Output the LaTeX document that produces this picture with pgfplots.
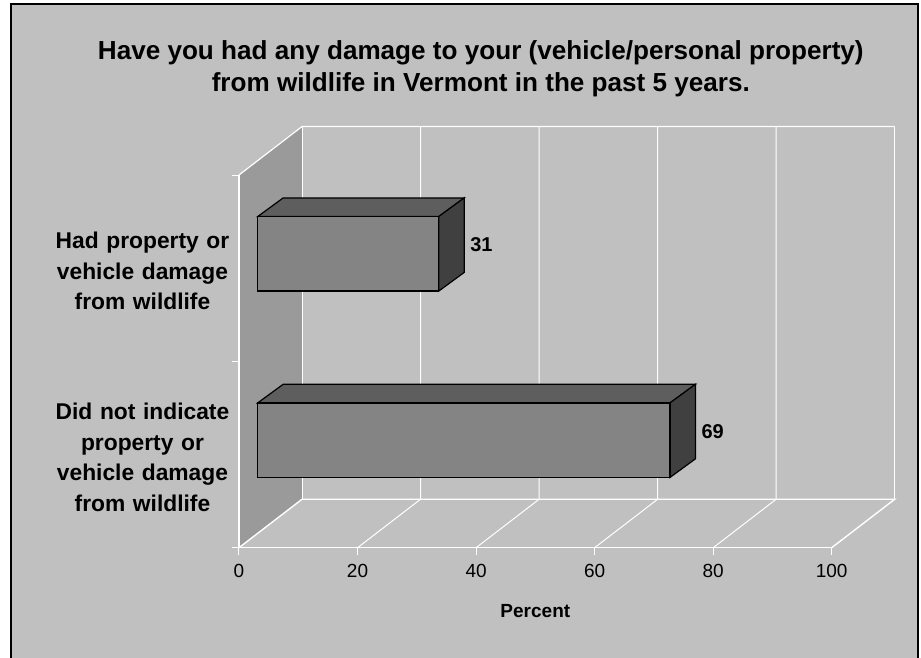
\documentclass[border=0pt]{standalone}
\usepackage{pgfplots}
\pgfplotsset{compat=1.18}
\usepackage{fontspec}
\setmainfont{Liberation Sans}
\definecolor{panel}{HTML}{C0C0C0}
\definecolor{wall}{HTML}{9A9A9A}
\definecolor{bartop}{HTML}{5E5E5E}
\definecolor{barside}{HTML}{404040}
\definecolor{barfront}{HTML}{7A7A7A}
\definecolor{baredge}{HTML}{848484}

\begin{document}
\begin{tikzpicture}[x=1pt,y=1pt]
% page = 921 x 657, axis origin sits at pixel (239,547.7)
\useasboundingbox (-239,-109.3) rectangle (682,547.7);
\fill[white] (-239,-109.3) rectangle (682,547.7);
\fill[panel] (-228,-110) rectangle (679,544);
\draw[black,line width=1.8pt] (-228,-112) -- (-228,544) -- (679,544) -- (679,-112);

% walls, floor and grid, front plane 0..100 x 0..2
\begin{axis}[
	at={(0,0)}, anchor=south west,
	scale only axis,
	width=592.7pt, height=372.7pt,
	xmin=0, xmax=100, ymin=0, ymax=2,
	clip=false,
	axis on top,
	axis lines*=left,
	axis line style={white,line width=1.2pt},
	xtick={0,20,40,60,80,100},
	ytick={0.5,1.5},
	yticklabels={{Did not indicate\\property or\\vehicle damage\\from wildlife},{Had property or\\vehicle damage\\from wildlife}},
	minor ytick={0,1,2},
	tick align=outside,
	major tick length=7pt,
	minor tick length=7pt,
	x tick style={white,line width=1pt},
	major y tick style={draw=none},
	minor y tick style={white,line width=1pt},
	/pgf/number format/assume math mode=true,
	x tick label style={font=\fontsize{19}{22}\selectfont,yshift=-6pt},
	y tick label style={font=\fontsize{22.8}{30.5}\selectfont\bfseries,align=center,text width=180pt,anchor=east,xshift=4pt,yshift=-3pt},
	xlabel={Percent},
	xlabel style={font=\fontsize{19}{22}\selectfont\bfseries,yshift=-20pt},
	title={Have you had any damage to your (vehicle/personal property)\\from wildlife in Vermont in the past 5 years.},
	title style={font=\fontsize{26.1}{32}\selectfont\bfseries,align=center,at={(0.408,1.0)},anchor=south,yshift=69pt},
]
\addplot[fill=wall,draw=none] coordinates {(0,0) (0,2) (10.63,2.26) (10.63,0.26)} --cycle;
\addplot[white,line width=1.2pt] coordinates {(0,2) (10.63,2.26) (100+10.63,2.26)};
\addplot[white,line width=1.4pt] coordinates {(0,0) (10.63,0.26) (110.63,0.26) (100,0)};
\addplot[white,line width=1pt] coordinates {(10.63,0.26) (10.63,2.26)};
\addplot[white,line width=1pt] coordinates {(20,0) (30.63,0.26) (30.63,2.26)};
\addplot[white,line width=1pt] coordinates {(40,0) (50.63,0.26) (50.63,2.26)};
\addplot[white,line width=1pt] coordinates {(60,0) (70.63,0.26) (70.63,2.26)};
\addplot[white,line width=1pt] coordinates {(80,0) (90.63,0.26) (90.63,2.26)};
\addplot[white,line width=1pt] coordinates {(110.63,0.26) (110.63,2.26)};
\end{axis}

% bars, set back from the front plane by a shifted second axis
\begin{axis}[
	at={(0,0)}, anchor=south west,
	scale only axis,
	width=592.7pt, height=372.7pt,
	xmin=-3.155, xmax=96.845, ymin=-0.077, ymax=1.923,
	clip=false,
	hide axis,
]
% top and side faces
\addplot[fill=bartop,draw=black,line width=1.2pt] coordinates {(0,0.7) (69.56,0.7) (73.86,0.8) (4.3,0.8)} --cycle;
\addplot[fill=barside,draw=black,line width=1.2pt] coordinates {(69.56,0.3) (73.86,0.4) (73.86,0.8) (69.56,0.7)} --cycle;
\addplot[fill=bartop,draw=black,line width=1.2pt] coordinates {(0,1.7) (30.54,1.7) (34.84,1.8) (4.3,1.8)} --cycle;
\addplot[fill=barside,draw=black,line width=1.2pt] coordinates {(30.54,1.3) (34.84,1.4) (34.84,1.8) (30.54,1.7)} --cycle;
% front faces
\addplot[xbar,bar width=0.4,draw=black,line width=1.2pt,
	left color=baredge,middle color=barfront,right color=baredge,
	point meta=explicit symbolic,
	nodes near coords,
	every node near coord/.append style={font=\fontsize{20}{24}\selectfont\bfseries,text=black,anchor=west,inner sep=0pt,xshift=31pt,yshift=9pt},
] coordinates {(69.56,0.5)[69] (30.54,1.5)[31]};
\end{axis}
\end{tikzpicture}
\end{document}
